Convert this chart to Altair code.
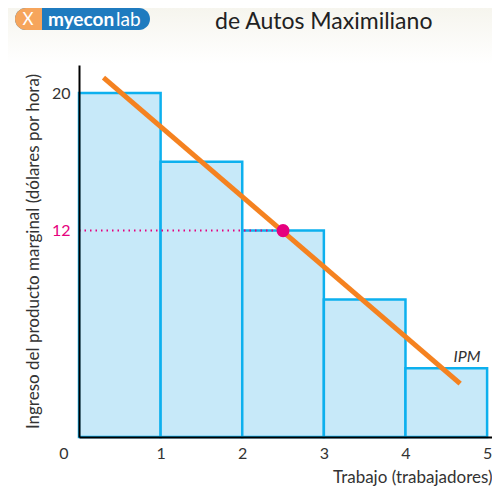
import altair as alt
import pandas as pd

# data
workers_start = [0, 1, 2, 3, 4]
workers_end = [1, 2, 3, 4, 5]
mrp = [20, 16, 12, 8, 4]
mrp_line_x = [0.3, 4.67]
mrp_line_y = [20.9, 3.1]
eq_x = [2.5]
eq_y = [12]
x_ticks = [1, 2, 3, 4, 5]
y_ticks = [12, 20]

W, H = 413, 372
XMAX, YMAX = 5.06, 21.63
FONT = "Lato"
TXT = "#333333"

bars_df = pd.DataFrame({"x": workers_start, "x2": workers_end, "y": mrp})
line_df = pd.DataFrame({"x": mrp_line_x, "y": mrp_line_y})
eq_df = pd.DataFrame({"x": eq_x, "y": eq_y})
dot_df = pd.DataFrame({"x": [0], "x2": eq_x, "y": eq_y})

xs = alt.Scale(domain=[0, XMAX], nice=False, zero=False)
ys = alt.Scale(domain=[0, YMAX], nice=False, zero=False)

xaxis = alt.Axis(values=x_ticks, format="d", ticks=False, grid=False, domainColor="black",
                 domainWidth=2, labelFontSize=16, labelColor=TXT, labelFont=FONT,
                 labelPadding=8, title="Trabajo (trabajadores)", titleFont=FONT,
                 titleFontSize=17, titleFontWeight="normal", titleColor=TXT,
                 titleAnchor="end", titleAlign="right", titleX=W, titleY=45,
                 titleBaseline="alphabetic", zindex=1)
yaxis = alt.Axis(values=y_ticks, format="d", ticks=False, grid=False, domainColor="black",
                 domainWidth=2, labelFontSize=16, labelFont=FONT, labelPadding=9,
                 labelColor={"condition": {"test": "datum.value == 12", "value": "#e6007e"}, "value": TXT},
                 title="Ingreso del producto marginal (dólares por hora)", titleFont=FONT,
                 titleFontSize=17, titleFontWeight="normal", titleColor=TXT, titlePadding=9,
                 zindex=1)

grad = {"gradient": "linear", "x1": 0, "y1": 0, "x2": 0, "y2": 1,
        "stops": [{"offset": 0, "color": "#f6f5ee"}, {"offset": 1, "color": "#ffffff"}]}
bg = alt.Chart(pd.DataFrame({"a": [0]})).mark_rect(fill=grad).encode(
    x=alt.value(-71), x2=alt.value(W), y=alt.value(-57), y2=alt.value(-1))

bars = alt.Chart(bars_df).mark_rect(fill="#c7e9f9", stroke="#0db0ee", strokeWidth=2.5).encode(
    x=alt.X("x:Q", scale=xs, axis=xaxis), x2="x2:Q",
    y=alt.Y("y:Q", scale=ys, axis=yaxis), y2=alt.datum(0))

dots = alt.Chart(dot_df).mark_rule(color="#e6007e", strokeWidth=2, strokeDash=[1.5, 4]).encode(
    x=alt.X("x:Q", scale=xs), x2="x2:Q", y=alt.Y("y:Q", scale=ys))

line = alt.Chart(line_df).mark_line(color="#f58220", strokeWidth=5).encode(
    x=alt.X("x:Q", scale=xs), y=alt.Y("y:Q", scale=ys))

pt = alt.Chart(eq_df).mark_circle(color="#e6007e", opacity=1, size=170).encode(
    x=alt.X("x:Q", scale=xs), y=alt.Y("y:Q", scale=ys))

base = alt.Chart(pd.DataFrame({"a": [0]}))
ipm = base.mark_text(text="IPM", font=FONT, fontSize=16, fontStyle="italic", color=TXT,
                     align="center", baseline="middle").encode(x=alt.value(388), y=alt.value(292))
zero = base.mark_text(text="0", font=FONT, fontSize=16, color=TXT, align="center",
                      baseline="middle").encode(x=alt.value(-15), y=alt.value(H + 17))
title = base.mark_text(text="de Autos Maximiliano", font=FONT, fontSize=23, color="#222222",
                       align="left", baseline="top").encode(x=alt.value(136), y=alt.value(-54))
logo_blue = base.mark_rect(fill="#1f7bbf", cornerRadius=11).encode(
    x=alt.value(-64), x2=alt.value(71), y=alt.value(-57), y2=alt.value(-35))
logo_orange = base.mark_rect(fill="#f6a55c", cornerRadiusTopLeft=11, cornerRadiusBottomLeft=11).encode(
    x=alt.value(-64), x2=alt.value(-37), y=alt.value(-57), y2=alt.value(-35))
logo_x = base.mark_text(text="X", font=FONT, fontSize=17, color="white", align="center",
                        baseline="middle").encode(x=alt.value(-51), y=alt.value(-45))
logo_t1 = base.mark_text(text="myecon", font=FONT, fontSize=19, fontWeight="bold", color="white",
                         align="left", baseline="middle").encode(x=alt.value(-31), y=alt.value(-45))
logo_t2 = base.mark_text(text="lab", font=FONT, fontSize=19, color="white",
                         align="left", baseline="middle").encode(x=alt.value(37), y=alt.value(-45))

chart = alt.layer(bg, bars, dots, line, pt, ipm, zero, title, logo_blue, logo_orange, logo_x,
                  logo_t1, logo_t2).properties(
    width=W, height=H, autosize=alt.AutoSizeParams(type="none"),
    padding={"left": 71, "top": 57, "right": 0, "bottom": 49}, background="white"
).configure_view(stroke=None)

chart.save("out.html", embed_options={"renderer": "svg", "actions": False})
